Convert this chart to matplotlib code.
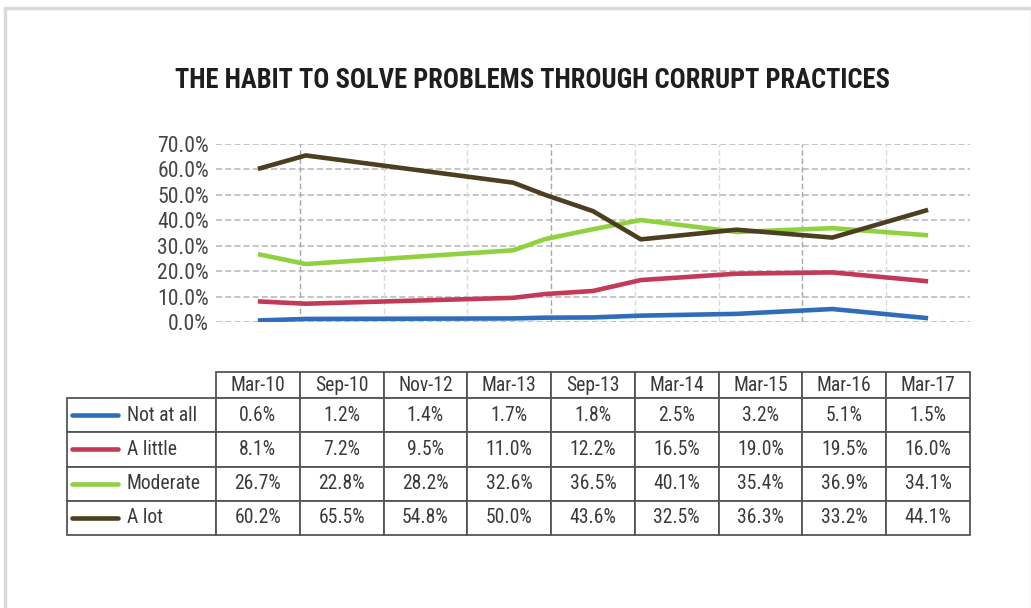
import matplotlib
matplotlib.use("Agg")
import matplotlib.pyplot as plt
from matplotlib import font_manager as fm
from matplotlib.table import Table
from matplotlib.ticker import FuncFormatter
from matplotlib.textpath import TextPath
from matplotlib.font_manager import FontProperties
import pandas as pd
import numpy as np

# ---------------- data ----------------
title = "THE HABIT TO SOLVE PROBLEMS THROUGH CORRUPT PRACTICES"
periods = ["Mar-10", "Sep-10", "Nov-12", "Mar-13", "Sep-13", "Mar-14", "Mar-15", "Mar-16", "Mar-17"]
series_names = ["Not at all", "A little", "Moderate", "A lot"]
not_at_all = [0.6, 1.2, 1.4, 1.7, 1.8, 2.5, 3.2, 5.1, 1.5]
a_little = [8.1, 7.2, 9.5, 11.0, 12.2, 16.5, 19.0, 19.5, 16.0]
moderate = [26.7, 22.8, 28.2, 32.6, 36.5, 40.1, 35.4, 36.9, 34.1]
a_lot = [60.2, 65.5, 54.8, 50.0, 43.6, 32.5, 36.3, 33.2, 44.1]
y_ticks = [0, 10, 20, 30, 40, 50, 60, 70]
colors = ["#2f6dba", "#c23a57", "#8fd13f", "#4b3f1f"]

# ---------------- fonts ----------------
avail = {f.name for f in fm.fontManager.ttflist}
prefs = ["Roboto Condensed", "Archivo Narrow", "PT Sans Narrow", "Arial Narrow",
         "IBM Plex Sans Condensed", "Open Sans Condensed", "Liberation Sans Narrow", "Roboto"]
FONT = next((p for p in prefs if p in avail), "DejaVu Sans")
plt.rcParams["font.family"] = [FONT, "DejaVu Sans"]


def fit_size(text, target_px, weight="normal"):
    fp = FontProperties(family=[FONT, "DejaVu Sans"], weight=weight, size=10)
    w = TextPath((0, 0), text, prop=fp).get_extents().width  # points at 10pt
    return 10 * (target_px * 0.72) / w


W, H = 1031, 608
fig = plt.figure(figsize=(W / 100, H / 100), dpi=100)
fig.patch.set_facecolor("white")

frame = plt.Rectangle((5 / W, -0.01), (W - 4) / W, 1 - 8 / H + 0.01, transform=fig.transFigure,
                      fill=False, edgecolor="#d9d9d9", linewidth=2.5)
fig.add_artist(frame)

fig.text(532 / W, 1 - 80 / H, title, ha="center", va="center",
         fontsize=fit_size(title, 715, "bold"), fontweight="bold", color="#1e1e1e")

# ---------------- line chart ----------------
dates = pd.to_datetime(periods, format="%b-%y")
months = np.array([(d.year - dates[0].year) * 12 + d.month - dates[0].month for d in dates], float)
n = len(periods)
xpos = months / months[-1] * (n - 1)  # date axis spanning column centers

ax = fig.add_axes([216 / W, 1 - 322 / H, (970 - 216) / W, (322 - 144) / H])
ax.set_xlim(-0.5, n - 0.5)
ax.set_ylim(0, 70)
for s in ax.spines.values():
    s.set_visible(False)
ax.set_yticks(y_ticks)
ax.yaxis.set_major_formatter(FuncFormatter(lambda v, p: f"{v:.1f}%"))
ax.tick_params(axis="y", length=0, pad=5, labelsize=fit_size("70.0%", 50), labelcolor="#454545")
ax.set_xticks([])
for v in y_ticks:
    ax.axhline(v, color="#b5b5b5", lw=1.1, ls=(0, (4, 2)), zorder=1)
for k in range(1, n):
    c = "#a8a8a8" if k % 3 == 1 else "#dadada"
    ax.axvline(k - 0.5, color=c, lw=1.0, ls=(0, (4, 2)), zorder=1)

for vals, col in zip([not_at_all, a_little, moderate, a_lot], colors):
    ax.plot(xpos, vals, color=col, lw=3.3, solid_capstyle="butt", solid_joinstyle="round", zorder=3)

# ---------------- data table ----------------
label_w = 149 / 83.8
hdr_h = 26 / 34
tx0, tx1, ty0, ty1 = 67, 970, 372, 535
axt = fig.add_axes([tx0 / W, 1 - ty1 / H, (tx1 - tx0) / W, (ty1 - ty0) / H])
axt.set_axis_off()
tot_w = label_w + n
tot_h = hdr_h + len(series_names)
axt.set_xlim(0, tot_w)
axt.set_ylim(tot_h, 0)

tfs = fit_size("36.5%", 45)
tb = Table(axt, bbox=[0, 0, 1, 1])
tb.auto_set_font_size(False)
edge = "#555555"
for j, p in enumerate(periods):
    tb.add_cell(0, j + 1, width=1, height=hdr_h, text=p, loc="center", edgecolor=edge)
for i, vals in enumerate([not_at_all, a_little, moderate, a_lot]):
    tb.add_cell(i + 1, 0, width=label_w, height=1, text="", edgecolor=edge)
    for j, v in enumerate(vals):
        tb.add_cell(i + 1, j + 1, width=1, height=1, text=f"{v:.1f}%", loc="center", edgecolor=edge)
for cell in tb.get_celld().values():
    cell.set_linewidth(1.3)
    cell.get_text().set_fontsize(tfs)
    cell.get_text().set_color("#3a3a3a")
axt.add_table(tb)

for i, (name, col) in enumerate(zip(series_names, colors)):
    yc = hdr_h + i + 0.5
    axt.plot([5 / 83.8, 51 / 83.8], [yc, yc], color=col, lw=3.3, solid_capstyle="round", clip_on=False)
    axt.text(60 / 83.8, yc, name, ha="left", va="center", fontsize=tfs, color="#3a3a3a")

fig.savefig("out.png", dpi=100, facecolor="white")
